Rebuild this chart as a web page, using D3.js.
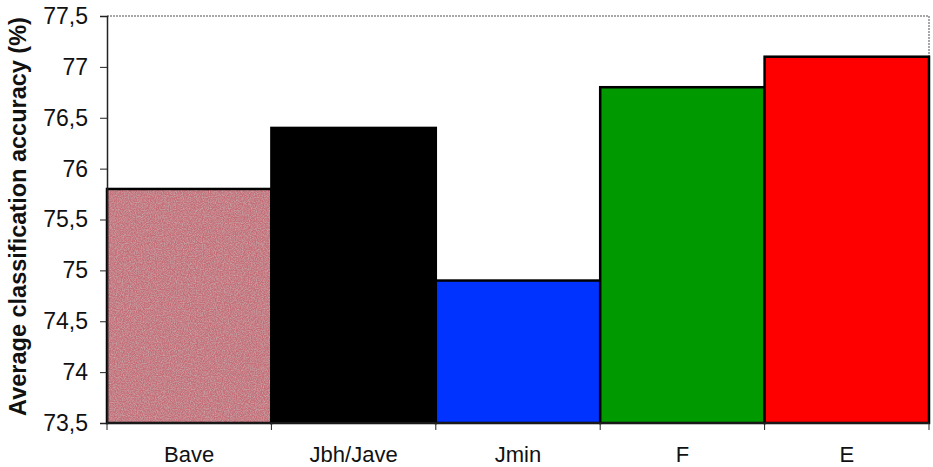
<!DOCTYPE html>
<html>
<head>
<meta charset="utf-8">
<script src="https://cdn.jsdelivr.net/npm/d3@7/dist/d3.min.js"></script>
<style>
  html, body { margin: 0; padding: 0; background: #fff; }
  svg { display: block; }
  text { font-family: "Liberation Sans", Arial, sans-serif; fill: #111; }
</style>
</head>
<body>
<svg id="chart" width="933" height="467"></svg>
<script>
// Average classification accuracy per criterion
const categories = ["Bave", "Jbh/Jave", "Jmin", "F", "E"];
const accuracy = [75.8, 76.4, 74.9, 76.8, 77.1];
const barColors = ["url(#grain)", "#000000", "#0033ff", "#009900", "#ff0000"];
const yTicks = [73.5, 74, 74.5, 75, 75.5, 76, 76.5, 77, 77.5];

const svg = d3.select("#chart");
const margin = { left: 107, right: 4, top: 16, bottom: 44 };
const W = 933, H = 467;

// Speckled fill for the first bar
const defs = svg.append("defs");
const f = defs.append("filter").attr("id", "noise").attr("x", 0).attr("y", 0)
  .attr("width", "100%").attr("height", "100%");
f.append("feTurbulence").attr("type", "fractalNoise").attr("baseFrequency", 0.85)
  .attr("numOctaves", 2).attr("seed", 5).attr("result", "t");
f.append("feColorMatrix").attr("in", "t").attr("type", "matrix")
  .attr("values", "0 0 0 0 0.55  0 0 0 0 0.5  0 0 0 0 0.5  1.4 0 0 0 -0.45")
  .attr("result", "n");
f.append("feComposite").attr("in", "n").attr("in2", "SourceGraphic").attr("operator", "in");
const pat = defs.append("pattern").attr("id", "grain").attr("patternUnits", "userSpaceOnUse")
  .attr("width", 200).attr("height", 420);
pat.append("rect").attr("width", 200).attr("height", 420).attr("fill", "#c66c76");
pat.append("rect").attr("width", 200).attr("height", 420).attr("fill", "#fff").attr("filter", "url(#noise)");

const x = d3.scaleBand().domain(categories)
  .range([margin.left, W - margin.right]).paddingInner(0).paddingOuter(0);
const y = d3.scaleLinear().domain([73.5, 77.5]).range([H - margin.bottom, margin.top]);

// Plot frame: dotted top and right edges
svg.append("path")
  .attr("d", `M${margin.left},${margin.top}H${W - margin.right}V${H - margin.bottom}`)
  .attr("fill", "none").attr("stroke", "#8a8a8a").attr("stroke-width", 1.5)
  .attr("stroke-dasharray", "2,1");

// Bars
svg.append("g").selectAll("rect").data(categories).join("rect")
  .attr("x", d => x(d))
  .attr("y", (d, i) => y(accuracy[i]))
  .attr("width", x.bandwidth())
  .attr("height", (d, i) => y(73.5) - y(accuracy[i]))
  .attr("fill", (d, i) => barColors[i])
  .attr("stroke", "#000").attr("stroke-width", 2.5);

// Y axis
const yAxis = svg.append("g").attr("transform", `translate(${margin.left},0)`)
  .call(d3.axisLeft(y).tickValues(yTicks).tickSize(7).tickPadding(12)
    .tickFormat(d => String(d).replace(".", ",")));
yAxis.select(".domain").attr("stroke", "#222").attr("stroke-width", 1.5);
yAxis.selectAll(".tick line").attr("stroke", "#222").attr("stroke-width", 1);
yAxis.selectAll(".tick text").attr("font-size", 23).attr("fill", "#111")
  .attr("font-family", "Liberation Sans, Arial, sans-serif");

// X axis with tick marks at band boundaries
const xAxisG = svg.append("g").attr("transform", `translate(0,${H - margin.bottom})`);
xAxisG.append("line").attr("x1", margin.left).attr("x2", W - margin.right)
  .attr("stroke", "#222").attr("stroke-width", 1.5);
const bounds = categories.map(c => x(c)).concat([x(categories[categories.length - 1]) + x.bandwidth()]);
xAxisG.selectAll("line.tk").data(bounds).join("line").attr("class", "tk")
  .attr("x1", d => d).attr("x2", d => d).attr("y1", 0).attr("y2", 7)
  .attr("stroke", "#222").attr("stroke-width", 1);
xAxisG.selectAll("text").data(categories).join("text")
  .attr("x", d => x(d) + x.bandwidth() / 2).attr("y", 39)
  .attr("text-anchor", "middle").attr("font-size", 22).text(d => d);

// Y axis title
svg.append("text")
  .attr("transform", `translate(26,${(margin.top + H - margin.bottom) / 2 - 3}) rotate(-90)`)
  .attr("text-anchor", "middle").attr("font-size", 23.5).attr("font-weight", "bold")
  .text("Average classification accuracy (%)");
</script>
</body>
</html>
